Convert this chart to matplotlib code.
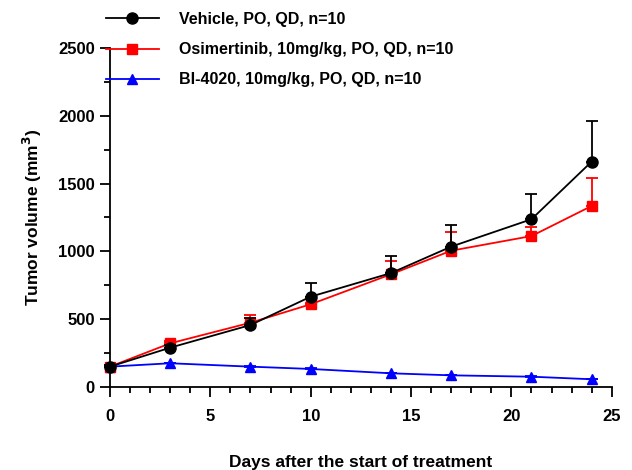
import matplotlib
matplotlib.use("Agg")
import matplotlib.pyplot as plt
from matplotlib.ticker import MultipleLocator

plt.rcParams['font.family'] = ['Liberation Sans', 'DejaVu Sans']

days = [0, 3, 7, 10, 14, 17, 21, 24]
vehicle = [150, 290, 457, 666, 840, 1035, 1237, 1662]
vehicle_err = [10, 20, 50, 100, 128, 160, 185, 300]
osim = [150, 322, 474, 610, 831, 1005, 1113, 1335]
osim_err = [10, 20, 57, 10, 100, 140, 70, 209]
bi4020 = [150, 175, 150, 133, 101, 86, 76, 57]
bi4020_err = [5, 5, 5, 5, 5, 5, 5, 5]

labels = ["Vehicle, PO, QD, n=10",
          "Osimertinib, 10mg/kg, PO, QD, n=10",
          "BI-4020, 10mg/kg, PO, QD, n=10"]

fig = plt.figure(figsize=(6.32, 4.70), dpi=100)
ax = fig.add_axes([0.174, 0.1766, 0.794, 0.7214])

hb = ax.errorbar(days, bi4020, yerr=[[0]*len(days), bi4020_err], color='#0000ff',
                 marker='^', markersize=7, lw=1.3, capsize=4, capthick=1.3,
                 elinewidth=1.3, zorder=2, clip_on=False)
hr = ax.errorbar(days, osim, yerr=[[0]*len(days), osim_err], color='#ff0000',
                 marker='s', markersize=7, lw=1.3, capsize=4, capthick=1.3,
                 elinewidth=1.3, zorder=3, clip_on=False)
hk = ax.errorbar(days, vehicle, yerr=[[0]*len(days), vehicle_err], color='black',
                 marker='o', markersize=8, lw=1.3, capsize=4, capthick=1.3,
                 elinewidth=1.3, zorder=4, clip_on=False)

ax.set_xlim(0, 25)
ax.set_ylim(0, 2500)
ax.xaxis.set_major_locator(MultipleLocator(5))
ax.xaxis.set_minor_locator(MultipleLocator(1))
ax.yaxis.set_major_locator(MultipleLocator(500))
ax.yaxis.set_minor_locator(MultipleLocator(250))
for s in ['top', 'right']:
    ax.spines[s].set_visible(False)
for s in ['left', 'bottom']:
    ax.spines[s].set_linewidth(1.3)
ax.tick_params(which='major', length=7, width=1.3, labelsize=12)
ax.tick_params(axis='x', which='major', pad=9)
ax.tick_params(axis='y', which='major', pad=4)
ax.tick_params(which='minor', length=4, width=1.3)
for lab in ax.get_xticklabels() + ax.get_yticklabels():
    lab.set_fontweight('bold')

ax.set_xlabel("Days after the start of treatment", fontsize=12.5, fontweight='bold', labelpad=22)
ax.set_ylabel("Tumor volume (mm$^\\mathbf{3}$)", fontsize=12.5, fontweight='bold', labelpad=10)

leg = fig.legend([hk[0], hr[0], hb[0]], labels, loc='upper left',
                 bbox_to_anchor=(0.145, 1.005), frameon=False,
                 handlelength=3.3, labelspacing=0.95, handletextpad=1.3,
                 prop={'weight': 'bold', 'size': 11.5})

fig.savefig("out.png", dpi=100)
